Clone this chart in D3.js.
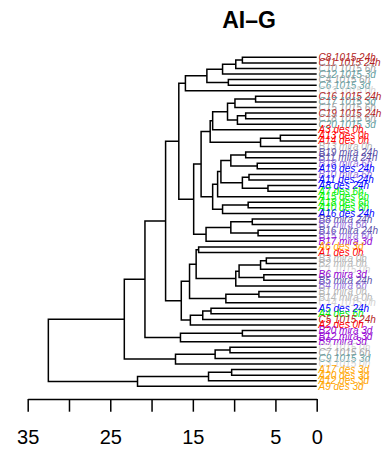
<!DOCTYPE html>
<html><head><meta charset="utf-8">
<script src="https://cdn.jsdelivr.net/npm/d3@7"></script>
<style>body{margin:0;background:#fff}svg{display:block}</style>
</head><body><svg id="c" width="389" height="451"></svg>
<script>
const title = "AI\u2013G";
const labels = [
"C8 1015 24h","C11 1015 24h","C10 1015 6h","C12 1015 3d","C4 1015 6h","C6 1015 3d","C13 1015 0h",
"C16 1015 24h","C17 1015 3d","C15 1015 6h","C19 1015 24h","C18 1015 6h","C20 1015 3d",
"A3 des 0h","A13 des 0h","A14 des 0h","B13 mira 0h","B19 mira 24h","B11 mira 24h","B18 mira 6h",
"A19 des 24h","B10 mira 6h","A11 des 24h","A8 des 24h","A7 des 6h","A15 des 6h","A18 des 6h",
"A10 des 6h","A16 des 24h","B8 mira 24h","B7 mira 6h","B16 mira 24h","B15 mira 6h","B17 mira 3d",
"A6 des 3d","A1 des 0h","B3 mira 0h","B2 mira 0h","C1 1015 0h","B6 mira 3d","B5 mira 24h",
"B4 mira 6h","B1 mira 0h","B14 mira 0h","C14 1015 0h","A5 des 24h","A4 des 6h","C5 1015 24h",
"A2 des 0h","B20 mira 3d","B12 mira 3d","B9 mira 3d","C2 1015 0h","C7 1015 6h","C9 1015 3d",
"C3 1015 0h","A17 des 3d","A20 des 3d","A12 des 3d","A9 des 3d"];
// hclust-style merges: negative = leaf (1-based display order), positive = earlier merge; third = height
const merges = [
[-1,-2,9.0],[-3,1,9.8],[2,-4,11.4],[-5,-6,10.7],[3,4,13.3],[5,-7,15.9],
[-8,-9,7.4],[7,-10,9.9],[-11,-12,8.6],[9,-13,9.6],[8,10,10.8],[11,-14,12.6],
[-15,-16,4.4],[13,-17,6.8],[12,14,12.9],
[-18,-19,8.6],[-20,-21,7.2],[16,17,10.4],[-22,-23,8.2],[-24,-25,5.9],[19,20,9.0],
[18,21,11.6],[22,-26,12.0],[-27,-28,8.3],[24,-29,11.4],[23,25,12.6],[15,26,14.0],
[-30,-31,7.8],[-32,-33,7.1],[28,29,10.4],[30,-34,13.4],[27,31,14.9],[6,32,16.7],
[-35,-36,14.3],[-37,-38,6.1],[35,-39,6.8],[-40,-41,6.4],[36,37,9.4],[38,-42,9.8],
[34,39,14.6],[-43,-44,7.0],[41,-45,11.0],[40,42,15.4],[-46,-47,12.8],[44,-48,13.8],
[45,-49,15.3],[43,46,16.4],[33,47,18.3],
[-50,-51,9.0],[49,-52,16.5],[48,50,20.8],
[-53,-54,10.5],[52,-55,12.3],[53,-56,17.1],[51,54,23.3],
[-57,-58,10.3],[56,-59,13.1],[57,-60,21.7],[55,58,32.5]];
const groupKeys = ["A 0h","A 6h","A 24h","A 3d","B 0h","B 6h","B 24h","B 3d","C 0h","C 6h","C 24h","C 3d"];
const groupColors = ["#FF0000","#00F000","#0000FF","#FFA500","#B4B4B4","#9370DB","#5A50A8","#9400D3","#D3D3D3","#A3A3A3","#B22222","#5F9EA0"];
const tickValues = [35,30,25,20,15,10,5,0];
const tickLabels = ["35","","25","","15","","5","0"];

const svg = d3.select("#c");
const font = "'Liberation Sans', Arial, Helvetica, sans-serif";
const x = d3.scaleLinear().domain([35,0]).range([27.7,316.7]);
const y = d3.scalePoint().domain(labels).range([57.3,386.3]);
const color = d3.scaleOrdinal().domain(groupKeys).range(groupColors);
const groupOf = l => { const p = l.split(" "); return p[0][0] + " " + p[p.length-1]; };

const pos = [];
function nx(r){ return r < 0 ? x(0) : pos[r-1].x; }
function ny(r){ return r < 0 ? y(labels[-r-1]) : pos[r-1].y; }
merges.forEach(m => {
  pos.push({x: x(m[2]), y: (ny(m[0]) + ny(m[1]))/2});
});
const g = svg.append("g");
g.selectAll("path.br").data(merges).enter().append("path")
  .attr("class","br")
  .attr("fill","none").attr("stroke","#000").attr("stroke-width",1.5)
  .attr("d", m => {
    const xm = x(m[2]);
    return `M${nx(m[0])},${ny(m[0])}H${xm}V${ny(m[1])}H${nx(m[1])}`;
  });

svg.append("g").selectAll("text").data(labels).enter().append("text")
  .attr("x", x(0) + 1.8).attr("y", d => y(d) + 3.5)
  .attr("font-family", font).attr("font-style","italic").attr("font-size",10)
  .attr("fill", d => color(groupOf(d)))
  .text(d => d);

svg.append("text").attr("x",249).attr("y",28.3).attr("text-anchor","middle")
  .attr("font-family",font).attr("font-weight","bold").attr("font-size",23)
  .text(title);

const axis = d3.axisBottom(x).tickValues(tickValues).tickSize(12.7).tickSizeOuter(0)
  .tickPadding(18.2).tickFormat((d,i) => tickLabels[i]);
const ag = svg.append("g").attr("transform","translate(0,399)").call(axis);
ag.selectAll("path,line").attr("stroke","#000").attr("stroke-width",1.5);
ag.selectAll("text").attr("font-family",font).attr("font-size",20).attr("fill","#000");
</script></body></html>
